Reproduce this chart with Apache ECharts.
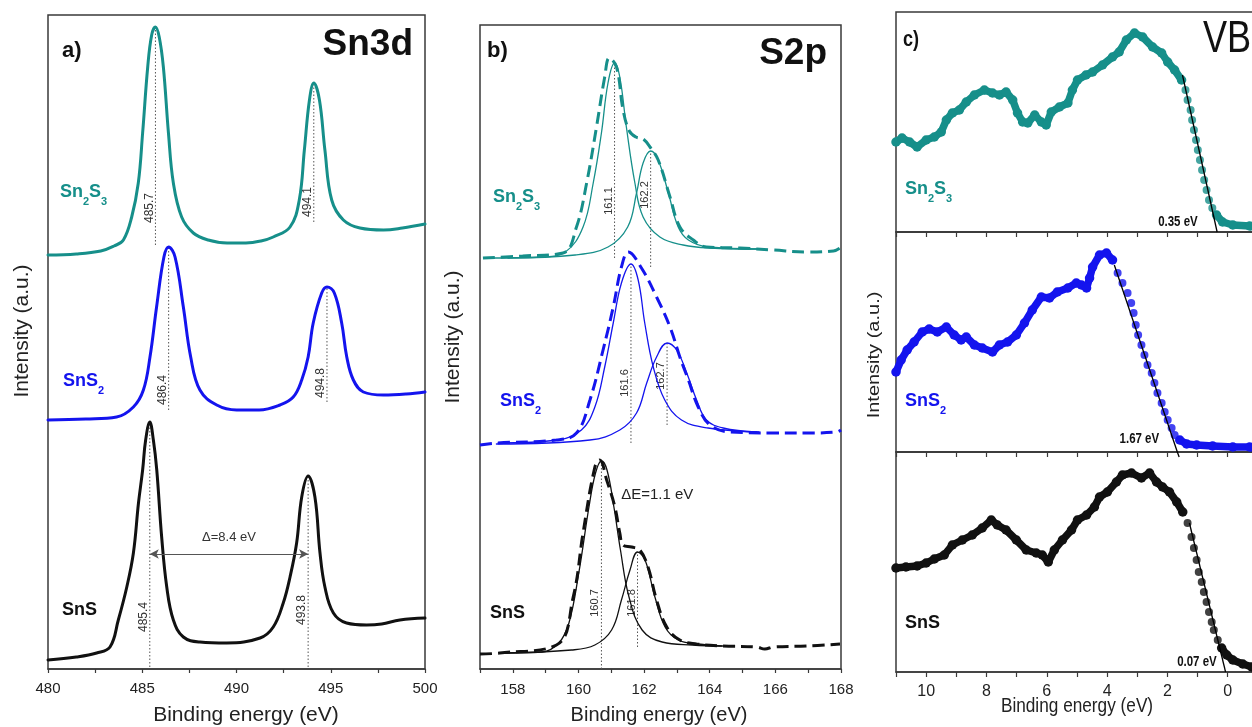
<!DOCTYPE html>
<html>
<head>
<meta charset="utf-8">
<script src="https://cdn.jsdelivr.net/npm/echarts@6/dist/echarts.min.js"></script>
<style>
  html, body { margin: 0; padding: 0; background: #ffffff; }
  #chart { width: 1252px; height: 727px; }
</style>
</head>
<body>
<div id="chart"></div>
<script>
// ---------- Sn 3d core level (binding energy eV, intensity a.u. with stacking offset) ----------
const sn3dSn2S3 = [[480,414],[481.5,415],[482.8,418],[483.5,423],[484.0,429],[484.44,452],[484.79,486],[485.02,536],[485.29,602],[485.5,634],[485.7,642],[485.9,632],[486.12,602],[486.39,536],[486.65,486],[487.09,452],[487.71,436],[488.5,429],[489.5,426],[490.5,426],[491.3,428],[491.95,432],[492.84,442],[493.33,469],[493.6,519],[493.87,569],[494.1,586],[494.4,569],[494.69,519],[495.05,469],[495.67,449],[496.55,441],[497.8,439],[498.8,441],[500,445]];
const sn3dSnS2 = [[480,249],[482,250],[483.64,252],[484.53,262],[485.06,279],[485.41,312],[485.76,362],[486.15,412],[486.4,422],[486.74,412],[487.18,362],[487.57,312],[488.06,279],[488.95,264],[490.01,259],[491.2,259],[492.31,264],[493.01,272],[493.46,289],[493.8,312],[494.07,346],[494.52,376],[494.8,382],[495.19,376],[495.58,346],[495.85,312],[496.2,289],[496.73,277],[497.79,274],[499,275],[500,277]];
const sn3dSnS = [[480,9],[481.5,12],[482.58,16],[483.29,22],[483.73,49],[484.18,82],[484.53,116],[484.8,166],[485.02,199],[485.18,229],[485.4,247],[485.59,229],[485.77,199],[486.03,132],[486.3,82],[486.65,49],[487.18,32],[488.06,27],[489.48,26],[491.25,31],[491.95,42],[492.48,66],[492.84,92],[493.19,126],[493.46,172],[493.8,193],[494.16,172],[494.43,116],[494.69,82],[495.14,56],[495.84,46],[496.9,44],[497.7,45],[498.67,49],[500,51]];

// Sn 3d peak positions (eV) and spin-orbit splitting
const sn3dPeaks = { Sn2S3: [485.7, 494.1], SnS2: [486.4, 494.8], SnS: [485.4, 493.8] };
const sn3dSplitting = 8.4;

// ---------- S 2p core level: measured envelope and two fitted components ----------
const s2pSn2S3Exp = [[157.09,411],[158.3,413],[159.53,416],[159.94,442],[160.25,486],[160.55,542],[160.8,592],[160.94,611],[161.16,602],[161.36,559],[161.55,538],[161.75,532],[161.97,530],[162.18,522],[162.43,509],[162.79,472],[163.09,442],[163.5,429],[163.9,422],[164.92,421],[165.94,419],[166.96,417],[167.77,418],[167.97,421]];
const s2pSn2S3Fit1 = [[157.2,411],[158.9,412],[159.6,417],[160.14,442],[160.45,486],[160.7,536],[160.9,586],[161.1,606],[161.26,592],[161.46,542],[161.72,486],[161.97,452],[162.48,432],[163.19,424],[164.0,421],[165.5,420]];
const s2pSn2S3Fit2 = [[157.85,411],[159.9,414],[160.9,422],[161.5,442],[161.77,476],[161.97,506],[162.2,518],[162.43,509],[162.74,476],[163.04,442],[163.35,429],[163.95,422],[165.5,420]];

const s2pSnS2Exp = [[157.0,224],[157.5,226],[159.33,229],[159.94,236],[160.35,269],[160.75,319],[161.06,362],[161.31,402],[161.52,417],[161.92,401],[162.38,372],[162.79,342],[163.09,312],[163.35,289],[163.65,262],[164.01,244],[164.62,237],[165.94,236],[166.96,236],[167.87,237],[168.0,239]];
const s2pSnS2Fit1 = [[157.55,226],[159.38,229],[160.09,239],[160.5,262],[160.8,302],[161.06,346],[161.31,386],[161.6,405],[161.82,389],[162.02,346],[162.28,302],[162.63,269],[163.14,249],[163.95,241],[165.5,237]];
const s2pSnS2Fit2 = [[157.5,225],[160.35,229],[161.26,239],[161.77,256],[162.08,286],[162.38,312],[162.7,326],[162.99,319],[163.3,296],[163.6,269],[163.9,249],[164.41,241],[165.43,237]];

const s2pSnSExp = [[157.0,15],[157.6,16],[159.33,24],[159.84,72],[160.14,136],[160.5,202],[160.65,209],[160.86,189],[161.11,162],[161.26,136],[161.36,124],[161.62,122],[161.87,119],[162.12,102],[162.38,69],[162.69,42],[163.09,29],[163.6,25],[164.41,23],[165.43,22],[165.68,20],[165.94,22],[166.96,23],[167.97,25]];
const s2pSnSFit1 = [[157.67,16],[158.89,17],[159.4,26],[159.71,46],[160.01,96],[160.32,162],[160.52,196],[160.7,208],[160.87,199],[161.08,162],[161.28,119],[161.54,72],[161.94,39],[162.55,27],[163.47,24],[164.48,23]];
const s2pSnSFit2 = [[157.75,16],[159.79,19],[160.5,24],[161.01,39],[161.31,69],[161.57,99],[161.8,117],[162.03,109],[162.33,72],[162.64,42],[163.04,29],[163.65,25],[164.36,23]];

// S 2p component positions (eV) and doublet separation
const s2pPeaks = { Sn2S3: [161.1, 162.2], SnS2: [161.6, 162.7], SnS: [160.7, 161.8] };
const s2pSplitting = 1.1;

// ---------- Valence band spectra ----------
const vbSn2S3 = [[11.0,90],[10.8,94],[10.55,90],[10.3,85],[10.0,92],[9.73,95],[9.5,100],[9.33,112],[9.13,119],[8.9,122],[8.67,130],[8.4,137],[8.07,142],[7.8,139],[7.57,137],[7.35,140],[7.13,132],[6.97,119],[6.8,110],[6.63,109],[6.4,117],[6.18,110],[6.02,107],[5.85,120],[5.58,125],[5.3,129],[5.15,142],[4.98,152],[4.7,157],[4.48,160],[4.15,167],[3.82,175],[3.6,180],[3.36,192],[3.09,199],[2.82,195],[2.49,185],[2.19,179],[1.99,170],[1.76,162],[1.53,152],[1.4,142],[1.33,132],[1.23,122],[1.18,112],[1.12,102],[1.05,92],[0.99,82],[0.92,72],[0.85,62],[0.78,52],[0.70,42],[0.62,32],[0.51,24],[0.37,17],[0.17,10],[-0.17,7],[-0.73,6]];
const vbSnS2 = [[11.0,80],[10.83,92],[10.63,102],[10.4,110],[10.13,120],[9.9,123],[9.63,120],[9.33,125],[9.07,117],[8.84,112],[8.67,115],[8.4,107],[8.14,104],[7.8,100],[7.57,107],[7.3,110],[7.01,117],[6.74,129],[6.48,142],[6.18,155],[5.91,154],[5.65,160],[5.3,164],[5.02,169],[4.85,167],[4.68,164],[4.58,174],[4.48,185],[4.25,197],[4.02,199],[3.82,192],[3.65,179],[3.49,169],[3.32,159],[3.2,149],[3.12,139],[3.05,127],[2.97,117],[2.86,107],[2.76,97],[2.66,87],[2.52,79],[2.43,69],[2.33,59],[2.19,49],[2.09,40],[1.99,32],[1.86,24],[1.76,17],[1.59,12],[1.36,8],[1.03,7],[0.5,6],[-0.17,5],[-0.73,5]];
const vbSnS = [[11.0,104],[10.67,105],[10.3,106],[10.0,109],[9.73,113],[9.4,117],[9.13,127],[8.8,132],[8.47,137],[8.14,144],[7.84,152],[7.64,147],[7.35,142],[7.01,132],[6.68,122],[6.35,119],[6.15,117],[5.95,110],[5.75,122],[5.48,132],[5.18,142],[4.98,152],[4.68,157],[4.42,165],[4.25,175],[3.99,180],[3.69,190],[3.49,197],[3.19,199],[2.86,194],[2.59,199],[2.36,190],[2.16,185],[1.93,180],[1.69,170],[1.49,160],[1.33,149],[1.2,135],[1.12,124],[1.03,112],[0.96,100],[0.86,90],[0.79,80],[0.7,70],[0.62,60],[0.53,50],[0.46,42],[0.33,32],[0.2,24],[0.03,17],[-0.17,12],[-0.5,8],[-0.8,5]];

// leading-edge extrapolations and resulting VB maxima (eV)
const vbOnset = { Sn2S3: 0.35, SnS2: 1.67, SnS: 0.07 };
const vbFitSn2S3 = [[1.5,157],[0.35,0]];
const vbFitSnS2 = [[3.76,187],[1.67,0],[1.61,-5]];
const vbFitSnS = [[1.27,149],[0.07,0]];
// leading-edge windows where the individual points are drawn apart
const vbEdge = { Sn2S3: [0.45, 1.45], SnS2: [1.7, 3.7], SnS: [0.3, 1.4] };

// ---------- styling ----------
const TEAL = '#168f8a', BLUE = '#1414ee', BLACK = '#111111';
const FRAME = '#3a3a3a';
const SANS = '"Liberation Sans", Arial, sans-serif';
const NARROW_X = 0.82; // horizontal squeeze used for the condensed lettering of panel c

const chart = echarts.init(document.getElementById('chart'), null, { renderer: 'canvas' });

const grids = [
  { left: 48, top: 15, width: 377, height: 654 },   // a) Sn3d
  { left: 480, top: 25, width: 361, height: 644 },  // b) S2p
  { left: 896, top: 12, width: 392, height: 220 },  // c) VB Sn2S3
  { left: 896, top: 232, width: 392, height: 220 }, // c) VB SnS2
  { left: 896, top: 452, width: 392, height: 220 }  // c) VB SnS
].map(g => Object.assign({ show: true, borderColor: FRAME, borderWidth: 1.5, backgroundColor: 'transparent',
  containLabel: false, outerBoundsMode: 'none' }, g));

function xAxisFor(grid, cfg) {
  return Object.assign({
    gridIndex: grid, type: 'value',
    axisLine: { show: true, onZero: false, lineStyle: { color: FRAME, width: 1.5 } },
    axisTick: { show: true, inside: false, length: 4, lineStyle: { color: FRAME, width: 1.2 } },
    splitLine: { show: false },
    axisLabel: { show: true, color: '#222', fontSize: 15, fontFamily: SANS, margin: 11 }
  }, cfg);
}
const vbTick = { show: true, length: 5, lineStyle: { color: FRAME, width: 1.2 } };
const xAxes = [
  xAxisFor(0, { min: 480, max: 500, interval: 2.5,
    axisLabel: { color: '#222', fontSize: 15, fontFamily: SANS, margin: 12, formatter: v => (v % 5 === 0 ? String(v) : '') } }),
  xAxisFor(1, { min: 157, max: 168, interval: 1,
    axisLabel: { color: '#222', fontSize: 15, fontFamily: SANS, margin: 13, formatter: v => (v % 2 === 0 ? String(v) : '') } }),
  xAxisFor(2, { min: -2, max: 11, interval: 1, inverse: true, axisTick: vbTick, axisLabel: { show: false } }),
  xAxisFor(3, { min: -2, max: 11, interval: 1, inverse: true, axisTick: vbTick, axisLabel: { show: false } }),
  xAxisFor(4, { min: -2, max: 11, interval: 1, inverse: true, axisTick: vbTick,
    axisLabel: { color: '#222', fontSize: 16, fontFamily: SANS, margin: 12,
      formatter: v => (v % 2 === 0 && v >= 0 && v <= 10 ? String(v) : '') } })
];
const yMax = [654, 644, 220, 220, 220];
const yAxes = yMax.map((m, i) => ({
  gridIndex: i, type: 'value', min: 0, max: m,
  axisLine: { show: false }, axisTick: { show: false }, axisLabel: { show: false }, splitLine: { show: false }
}));

const series = [];
function curve(grid, data, color, width, extra) {
  series.push(Object.assign({
    type: 'line', xAxisIndex: grid, yAxisIndex: grid, data,
    symbol: 'none', smooth: 0.4,
    lineStyle: { color, width, cap: 'round', join: 'round' },
    silent: true, animation: false, z: 3
  }, extra || {}));
}
function dropLine(grid, e, lo, hi) {
  series.push({
    type: 'line', xAxisIndex: grid, yAxisIndex: grid, data: [[e, lo], [e, hi]],
    symbol: 'none', lineStyle: { color: '#555', width: 1, type: [1.5, 2] },
    silent: true, animation: false, z: 2
  });
}

// a) Sn3d spectra
curve(0, sn3dSn2S3, TEAL, 3);
curve(0, sn3dSnS2, BLUE, 3);
curve(0, sn3dSnS, BLACK, 3);

// b) S2p: fitted components (thin) and measured envelope (dashed)
const dashed = { type: [12, 6] };
curve(1, s2pSn2S3Fit1, TEAL, 1.3);
curve(1, s2pSn2S3Fit2, TEAL, 1.3);
curve(1, s2pSn2S3Exp, TEAL, 3, { lineStyle: Object.assign({ color: TEAL, width: 3 }, dashed) });
curve(1, s2pSnS2Fit1, BLUE, 1.3);
curve(1, s2pSnS2Fit2, BLUE, 1.3);
curve(1, s2pSnS2Exp, BLUE, 3, { lineStyle: Object.assign({ color: BLUE, width: 3 }, dashed) });
curve(1, s2pSnSFit1, BLACK, 1.3);
curve(1, s2pSnSFit2, BLACK, 1.3);
curve(1, s2pSnSExp, BLACK, 3, { lineStyle: Object.assign({ color: BLACK, width: 3 }, dashed) });

// dotted drop lines under each labelled peak: [grid, energy, lower end, label centre, curve]
const valueAt = (data, e) => { const p = data.find(d => d[0] === e); return p ? p[1] : 0; };
const peakMarks = [
  [0, sn3dPeaks.Sn2S3[0], 424, 461, sn3dSn2S3],
  [0, sn3dPeaks.Sn2S3[1], 447, 467, sn3dSn2S3],
  [0, sn3dPeaks.SnS2[0], 259, 279, sn3dSnS2],
  [0, sn3dPeaks.SnS2[1], 267, 286, sn3dSnS2],
  [0, sn3dPeaks.SnS[0], 2, 52, sn3dSnS],
  [0, sn3dPeaks.SnS[1], 2, 59, sn3dSnS],
  [1, s2pPeaks.Sn2S3[0], 411, 468, s2pSn2S3Fit1],
  [1, s2pPeaks.Sn2S3[1], 402, 474, s2pSn2S3Fit2],
  [1, s2pPeaks.SnS2[0], 226, 286, s2pSnS2Fit1],
  [1, s2pPeaks.SnS2[1], 244, 293, s2pSnS2Fit2],
  [1, s2pPeaks.SnS[0], 0, 66, s2pSnSFit1],
  [1, s2pPeaks.SnS[1], 22, 66, s2pSnSFit2]
];
peakMarks.forEach(([g, e, lo, , data]) => dropLine(g, e, lo, valueAt(data, e)));

// double arrow for the Sn3d spin-orbit splitting (SnS)
series.push({
  type: 'line', xAxisIndex: 0, yAxisIndex: 0, data: [], silent: true, animation: false,
  markLine: {
    silent: true, animation: false, symbol: ['arrow', 'arrow'], symbolSize: [7, 9],
    lineStyle: { color: '#555', width: 1.2, type: 'solid' }, label: { show: false },
    data: [[{ coord: [sn3dPeaks.SnS[0], 115] }, { coord: [sn3dPeaks.SnS[0] + sn3dSplitting, 115] }]]
  }
});

// c) valence band: dense points as a beaded thick trace, leading edge as separate dots
function vbSeries(grid, data, edge, color, fit) {
  const upper = data.filter(p => p[0] >= edge[1]);
  const tail = data.filter(p => p[0] <= edge[0]);
  const mid = data.filter(p => p[0] < edge[1] && p[0] > edge[0]);
  const bead = {
    type: 'line', xAxisIndex: grid, yAxisIndex: grid, symbol: 'circle', symbolSize: 9.5,
    showSymbol: true, showAllSymbol: true, itemStyle: { color }, lineStyle: { color, width: 7.5, join: 'round', cap: 'round' },
    silent: true, animation: false, z: 3, clip: false
  };
  series.push(Object.assign({}, bead, { data: upper }));
  series.push(Object.assign({}, bead, { data: tail }));
  series.push({ type: 'scatter', xAxisIndex: grid, yAxisIndex: grid, data: mid, symbolSize: 8,
    itemStyle: { color }, silent: true, animation: false, z: 3 });
  series.push({ type: 'line', xAxisIndex: grid, yAxisIndex: grid, data: fit, symbol: 'none',
    lineStyle: { color: '#000', width: 1.3 }, silent: true, animation: false, z: 5, clip: false });
}
vbSeries(2, vbSn2S3, vbEdge.Sn2S3, TEAL, vbFitSn2S3);
vbSeries(3, vbSnS2, vbEdge.SnS2, BLUE, vbFitSnS2);
vbSeries(4, vbSnS, vbEdge.SnS, BLACK, vbFitSnS);

chart.setOption({
  animation: false,
  backgroundColor: '#ffffff',
  grid: grids, xAxis: xAxes, yAxis: yAxes, series
});

// ---------- text layer ----------
const measure = document.createElement('canvas').getContext('2d');
const px = (g, e, v) => chart.convertToPixel({ gridIndex: g }, [e, v]);
const gfx = [];

function text(x, y, str, font, fill, align, extra) {
  gfx.push(Object.assign({ type: 'text', x, y, silent: true,
    style: { text: str, font, fill, align: align || 'left', verticalAlign: 'middle' } }, extra || {}));
}
function vtext(x, y, str, font, fill, extra) {
  text(x, y, str, font, fill, 'center', Object.assign({ rotation: Math.PI / 2 }, extra || {}));
}
const narrow = { scaleX: NARROW_X };
// chemical formula with subscripts: parts = [[text, isSubscript], ...]
function formula(parts, x, cy, color) {
  let cx = x;
  parts.forEach(([t, sub]) => {
    const size = sub ? 11 : 18;
    const font = `bold ${size}px ${SANS}`;
    measure.font = font;
    text(cx, sub ? cy + 10 : cy, t, font, color);
    cx += measure.measureText(t).width;
  });
}
const SN2S3 = [['Sn', 0], ['2', 1], ['S', 0], ['3', 1]];
const SNS2 = [['SnS', 0], ['2', 1]];
const SNS = [['SnS', 0]];

// panel titles
text(62, 51, 'a)', `bold 22px ${SANS}`, '#111');
text(413, 45, 'Sn3d', `bold 37px ${SANS}`, '#111', 'right');
text(487, 51, 'b)', `bold 22px ${SANS}`, '#111');
text(827, 54, 'S2p', `bold 37px ${SANS}`, '#111', 'right');
text(903, 40, 'c)', `bold 22px ${SANS}`, '#111', 'left', narrow);
text(1203, 40, 'VB', `44px ${SANS}`, '#111', 'left', narrow);

// sample labels
formula(SN2S3, 60, 192, TEAL); formula(SNS2, 63, 381, BLUE); formula(SNS, 62, 610, BLACK);
formula(SN2S3, 493, 197, TEAL); formula(SNS2, 500, 401, BLUE); formula(SNS, 490, 613, BLACK);
formula(SN2S3, 905, 189, TEAL); formula(SNS2, 905, 401, BLUE); formula(SNS, 905, 623, BLACK);

// axis titles
text(246, 715, 'Binding energy (eV)', `21px ${SANS}`, '#222', 'center');
text(659, 715, 'Binding energy (eV)', `20px ${SANS}`, '#222', 'center');
text(1077, 706, 'Binding energy (eV)', `21px ${SANS}`, '#222', 'center', narrow);
vtext(22, 331, 'Intensity (a.u.)', `21px ${SANS}`, '#222');
vtext(453, 337, 'Intensity (a.u.)', `21px ${SANS}`, '#222');
vtext(874, 355, 'Intensity (a.u.)', `20px ${SANS}`, '#222', { scaleY: NARROW_X });

// peak position labels beside the drop lines
peakMarks.forEach(([g, e, , mid]) => {
  const p = px(g, e, mid);
  vtext(p[0] - 6, p[1], e.toFixed(1), `${g === 0 ? 12 : 11}px ${SANS}`, '#333');
});

// splitting annotations
{
  const p = px(0, sn3dPeaks.SnS[0] + sn3dSplitting / 2, 132);
  text(p[0], p[1], `\u0394=${sn3dSplitting.toFixed(1)} eV`, `13px ${SANS}`, '#333', 'center');
  const q = px(1, 162.4, 174);
  text(q[0], q[1], `\u0394E=${s2pSplitting.toFixed(1)} eV`, `15px ${SANS}`, '#222', 'center');
}

// VB maximum labels
[[2, vbOnset.Sn2S3, 1.65, 9.5], [3, vbOnset.SnS2, 2.93, 13], [4, vbOnset.SnS, 1.02, 9.5]].forEach(([g, val, e, v]) => {
  const p = px(g, e, v);
  text(p[0], p[1], `${val.toFixed(2)} eV`, `bold 14px ${SANS}`, '#111', 'center', narrow);
});

chart.setOption({ graphic: gfx });
</script>
</body>
</html>
